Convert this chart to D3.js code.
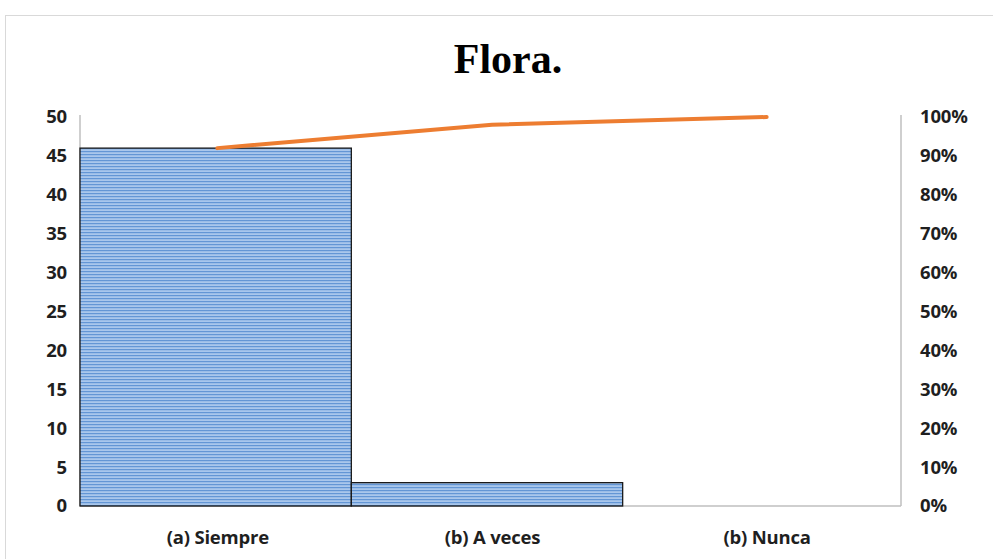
<!DOCTYPE html>
<html>
<head>
<meta charset="utf-8">
<script src="https://cdn.jsdelivr.net/npm/d3@7"></script>
<style>
    body { margin: 0; background: #fff; }
    text { font-family: "Open Sans", sans-serif; }
</style>
</head>
<body>
<svg width="993" height="559"></svg>
<script>
const categories = ["(a) Siempre", "(b) A veces", "(b) Nunca"];
const counts = [46, 3, 0];
const cumulative = [0.92, 0.98, 1.0];
const leftTicks = [0, 5, 10, 15, 20, 25, 30, 35, 40, 45, 50];
const rightTicks = [0, 0.1, 0.2, 0.3, 0.4, 0.5, 0.6, 0.7, 0.8, 0.9, 1.0];

let svg = d3.select("svg");
const margin = {left: 80, right: 92, top: 117, bottom: 53};
let width = +svg.attr("width");
let height = +svg.attr("height");

// chart area frame
svg.append("rect")
    .attr("x", 5.5).attr("y", 15.5)
    .attr("width", 1000).attr("height", 600)
    .attr("fill", "#fff")
    .attr("stroke", "#d9d9d9");

// striped fill for the bars
let pat = svg.append("defs").append("pattern")
    .attr("id", "stripes")
    .attr("patternUnits", "userSpaceOnUse")
    .attr("width", 6).attr("height", 3);
pat.append("rect").attr("width", 6).attr("height", 3).attr("fill", "#a9c7ec");
pat.append("rect").attr("y", 1).attr("width", 6).attr("height", 1.2).attr("fill", "#6396d5");

// bars sit side by side, slightly narrower than the category slots
let xBar = d3.scaleBand()
    .domain(categories)
    .range([margin.left, 894])
    .padding(0);

let x = d3.scalePoint()
    .domain(categories)
    .range([margin.left, width - margin.right + 3])
    .padding(0.5);

let y = d3.scaleLinear()
    .domain([0, 50])
    .range([height - margin.bottom, margin.top]);

let y2 = d3.scaleLinear()
    .domain([0, 1])
    .range([height - margin.bottom, margin.top]);

// title
svg.append("text")
    .attr("x", 508).attr("y", 73)
    .attr("text-anchor", "middle")
    .style("font-family", "'Liberation Serif', serif")
    .style("font-weight", "bold")
    .style("font-size", "42px")
    .attr("fill", "#000")
    .text("Flora.");

// axes lines
let g = svg.append("g");
g.append("line")
    .attr("x1", margin.left).attr("x2", width - margin.right)
    .attr("y1", y(0)).attr("y2", y(0))
    .attr("stroke", "#bfbfbf").attr("stroke-width", 1.5);
g.append("line")
    .attr("x1", margin.left).attr("x2", margin.left)
    .attr("y1", y(0)).attr("y2", y(50) - 2)
    .attr("stroke", "#bfbfbf").attr("stroke-width", 1.5);
g.append("line")
    .attr("x1", width - margin.right).attr("x2", width - margin.right)
    .attr("y1", y(0)).attr("y2", y(50) - 2)
    .attr("stroke", "#bfbfbf").attr("stroke-width", 1.5);

// bars
g.append("g")
    .selectAll("rect")
    .data(counts.map(function (d, i) { return {cat: categories[i], v: d}; }).filter(function (d) { return d.v > 0; }))
    .enter().append("rect")
    .attr("x", function (d) { return xBar(d.cat); })
    .attr("y", function (d) { return y(d.v); })
    .attr("width", xBar.bandwidth())
    .attr("height", function (d) { return y(0) - y(d.v); })
    .attr("fill", "url(#stripes)")
    .attr("stroke", "#1a1a1a")
    .attr("stroke-width", 1.3);

// cumulative line
let line = d3.line()
    .x(function (d, i) { return x(categories[i]); })
    .y(function (d) { return y2(d); });

g.append("path")
    .datum(cumulative)
    .attr("d", line)
    .attr("fill", "none")
    .attr("stroke", "#ed7d31")
    .attr("stroke-width", 4)
    .attr("stroke-linecap", "round")
    .attr("stroke-linejoin", "round");

function styleLabels(sel) {
    sel.style("font-family", "'Open Sans', sans-serif")
        .style("font-size", "18.5px")
        .style("font-weight", "bold")
        .style("letter-spacing", "-0.2px")
        .attr("fill", "#1f1f1f");
}

// left tick labels
let leftAxis = d3.axisLeft(y).tickValues(leftTicks).tickSize(0).tickPadding(13);
svg.append("g")
    .attr("transform", "translate(" + margin.left + ",0)")
    .call(leftAxis)
    .call(function (a) { a.select(".domain").remove(); })
    .selectAll("text")
    .call(styleLabels);

// right tick labels
let rightAxis = d3.axisRight(y2).tickValues(rightTicks).tickSize(0).tickPadding(19)
    .tickFormat(d3.format(".0%"));
svg.append("g")
    .attr("transform", "translate(" + (width - margin.right) + ",0)")
    .call(rightAxis)
    .call(function (a) { a.select(".domain").remove(); })
    .selectAll("text")
    .call(styleLabels);

// category labels
let bottomAxis = d3.axisBottom(x).tickSize(0).tickPadding(25);
svg.append("g")
    .attr("transform", "translate(0," + y(0) + ")")
    .call(bottomAxis)
    .call(function (a) { a.select(".domain").remove(); })
    .selectAll("text")
    .call(styleLabels);
</script>
</body>
</html>
